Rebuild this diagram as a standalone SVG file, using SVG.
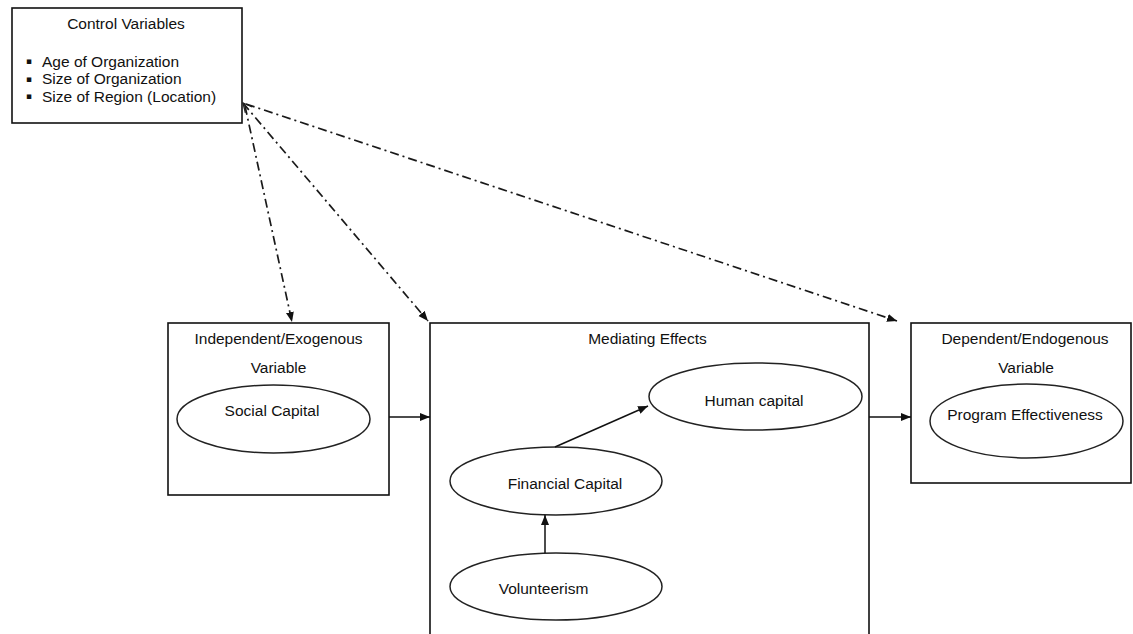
<svg xmlns="http://www.w3.org/2000/svg" width="1133" height="634" viewBox="0 0 1133 634">
  <style>
    .box { fill: #ffffff; stroke: #111111; stroke-width: 1.6; }
    .oval { fill: #ffffff; stroke: #222222; stroke-width: 1.5; }
    .lbl { font-family: "Liberation Sans", Arial, sans-serif; font-size: 15.5px; fill: #111111; text-anchor: middle; }
    .item { font-family: "Liberation Sans", Arial, sans-serif; font-size: 15.5px; fill: #111111; }
    .bullet { font-family: "DejaVu Sans", sans-serif; font-size: 9px; fill: #111111; }
    .link { fill: none; stroke: #111111; stroke-width: 1.5; }
    .ctrl { fill: none; stroke: #1a1a1a; stroke-width: 1.7; stroke-dasharray: 9 4 2 4; }
  </style>
  <defs>
    <marker id="tri" markerUnits="userSpaceOnUse" markerWidth="12" markerHeight="10" refX="10" refY="5" orient="auto">
      <path d="M0,1 L10,5 L0,9 Z" fill="#111111"/>
    </marker>
    <marker id="open" markerUnits="userSpaceOnUse" markerWidth="12" markerHeight="12" refX="10" refY="6" orient="auto-start-reverse">
      <path d="M1,1.5 L10,6 L1,10.5" fill="none" stroke="#222222" stroke-width="1.3"/>
    </marker>
  </defs>

  <rect width="1133" height="634" fill="#ffffff"/>

  <!-- Control variables -->
  <g id="control">
    <rect class="box" x="12" y="8" width="230" height="115"/>
    <text class="lbl" x="126" y="29">Control Variables</text>
    <text class="bullet" x="26" y="64">▪</text>
    <text class="item" x="42" y="66.5">Age of Organization</text>
    <text class="bullet" x="26" y="81.5">▪</text>
    <text class="item" x="42" y="84">Size of Organization</text>
    <text class="bullet" x="26" y="99">▪</text>
    <text class="item" x="42" y="101.5">Size of Region (Location)</text>
  </g>

  <!-- Independent / exogenous variable -->
  <g id="independent">
    <rect class="box" x="168" y="323" width="221" height="172"/>
    <text class="lbl" x="278.5" y="344">Independent/Exogenous</text>
    <text class="lbl" x="278.5" y="373">Variable</text>
    <ellipse class="oval" cx="273.5" cy="419" rx="96.5" ry="34"/>
    <text class="lbl" x="272" y="416">Social Capital</text>
  </g>

  <!-- Mediating effects -->
  <g id="mediating">
    <rect class="box" x="430" y="323" width="439" height="330"/>
    <text class="lbl" x="647.5" y="344">Mediating Effects</text>
  </g>
  <g id="human">
    <ellipse class="oval" cx="755.5" cy="396.5" rx="106.5" ry="33.5"/>
    <text class="lbl" x="754" y="406">Human capital</text>
  </g>
  <g id="financial">
    <ellipse class="oval" cx="556" cy="481" rx="106" ry="34"/>
    <text class="lbl" x="565" y="489">Financial Capital</text>
  </g>
  <g id="volunteerism">
    <ellipse class="oval" cx="556" cy="586.5" rx="106" ry="33.5"/>
    <text class="lbl" x="543.5" y="594">Volunteerism</text>
  </g>

  <!-- Dependent / endogenous variable -->
  <g id="dependent">
    <rect class="box" x="911" y="323" width="220" height="160"/>
    <text class="lbl" x="1025" y="344">Dependent/Endogenous</text>
    <text class="lbl" x="1026" y="373">Variable</text>
    <ellipse class="oval" cx="1026.5" cy="421" rx="96.5" ry="37"/>
    <text class="lbl" x="1025" y="420">Program Effectiveness</text>
  </g>

  <!-- Connectors -->
  <g id="connectors">
    <path class="link" d="M389,417 L430,417" marker-end="url(#tri)"/>
    <path class="link" d="M869,417 L911,417" marker-end="url(#tri)"/>
    <path class="link" d="M545,553 L545,515" marker-end="url(#tri)"/>
    <path class="link" d="M555,447 L648,406" marker-end="url(#tri)"/>
    <path class="ctrl" d="M245,106 L292,322" marker-end="url(#tri)"/>
    <path class="ctrl" d="M243,103 L428,321" marker-start="url(#open)" marker-end="url(#tri)"/>
    <path class="ctrl" d="M246,104 L897,321" marker-end="url(#tri)"/>
  </g>
</svg>
